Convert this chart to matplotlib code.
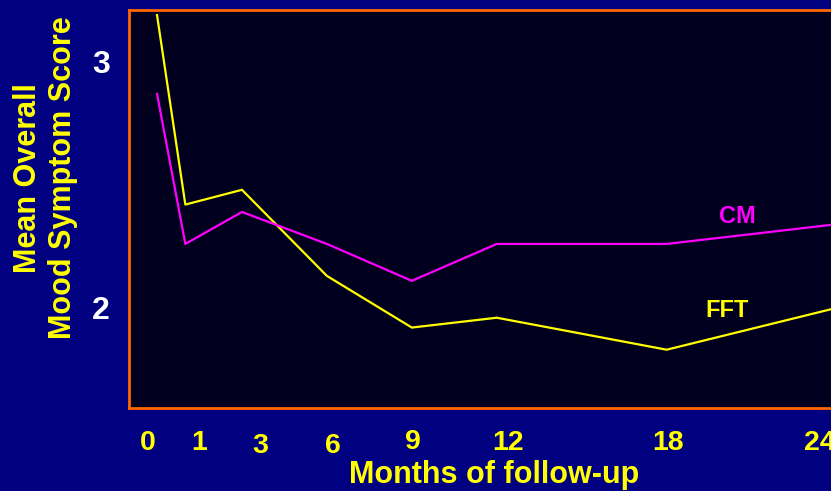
import matplotlib.pyplot as plt
from matplotlib.transforms import ScaledTranslation

plt.rcParams['font.family'] = ['Liberation Sans', 'DejaVu Sans']
plt.rcParams['font.weight'] = 'bold'
plt.rcParams['axes.labelweight'] = 'bold'

months = [0, 1, 3, 6, 9, 12, 18, 24]
fft = [3.19, 2.42, 2.48, 2.13, 1.92, 1.96, 1.83, 2.00]
cm = [2.87, 2.26, 2.39, 2.26, 2.11, 2.26, 2.26, 2.34]
tick_labels = ['0', '1', '3', '6', '9', '12', '18', '24']
# small hand nudges of the month labels (points)
label_dx = [-7, 10, 13, 4, 1, 8, 1, -12]
label_dy = [0, 0, -2, -2, 1, 0, 0, 0]

fig = plt.figure(figsize=(8.31, 4.91), dpi=100)
fig.patch.set_facecolor('#000080')

# axes run off the right edge of the figure
ax = fig.add_axes([129 / 831, (491 - 408) / 491, (845 - 129) / 831, 398 / 491])
ax.set_facecolor('#00001e')

ax.plot(months, fft, color='#ffff00', lw=1.6)
ax.plot(months, cm, color='#ff00ff', lw=1.6)

ax.set_xlim(-0.99, 24.3)
ax.set_ylim(1.593, 3.211)

ax.text(20.5, 2.37, 'CM', color='#ff00ff', fontsize=17, fontweight='bold',
        ha='center', va='center')
ax.text(20.15, 1.99, 'FFT', color='#ffff00', fontsize=17, fontweight='bold',
        ha='center', va='center')

for side in ['left', 'bottom', 'top', 'right']:
    ax.spines[side].set_color('#ff6600')
    ax.spines[side].set_linewidth(2)

ax.set_xticks(months)
ax.set_xticklabels(tick_labels, fontweight='bold')
ax.tick_params(axis='x', length=0, pad=16, labelsize=20.5, labelcolor='#ffff00')
for lab, dx, dy in zip(ax.get_xticklabels(), label_dx, label_dy):
    lab.set_transform(lab.get_transform() + ScaledTranslation(dx / 72, dy / 72, fig.dpi_scale_trans))

ax.set_yticks([2, 3])
ax.set_yticklabels(['2', '3'], fontweight='bold')
ax.tick_params(axis='y', length=0, pad=14, labelsize=23, labelcolor='white')

ax.set_xlabel('Months of follow-up', color='#ffff00', fontsize=22, fontweight='bold')
ax.xaxis.set_label_coords((494 - 129) / (845 - 129), -(483 - 408) / 398)
ax.xaxis.label.set_verticalalignment('baseline')
ax.set_ylabel('Mean Overall\nMood Symptom Score', color='#ffff00', fontsize=22,
              fontweight='bold', linespacing=1.22)
ax.yaxis.set_label_coords(-(129 - 78) / (845 - 129), (408 - 178) / 398)

fig.savefig('out.png', dpi=100, facecolor=fig.get_facecolor())
